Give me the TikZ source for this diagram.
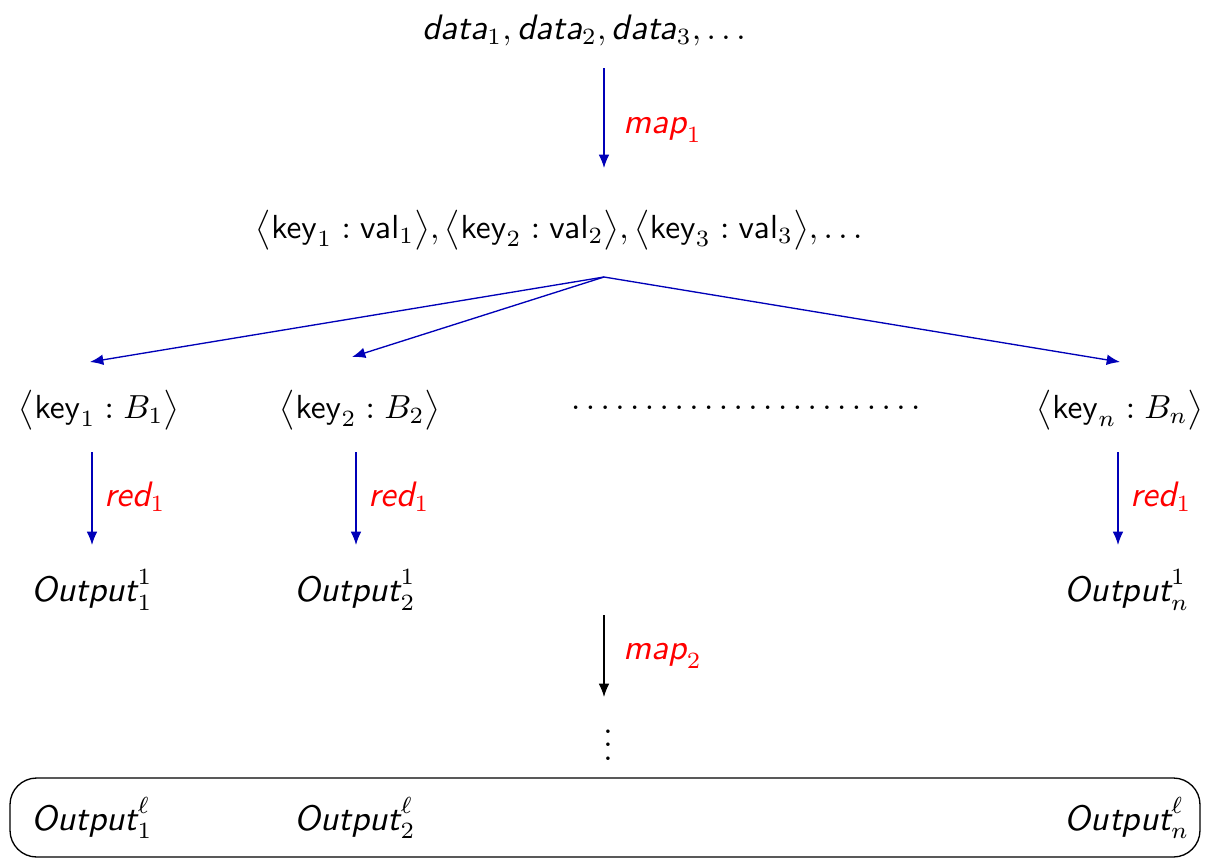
\documentclass[tikz,border=0pt]{standalone}
\usepackage{graphicx}
\usepackage{amsmath}
\usetikzlibrary{arrows.meta}
\definecolor{arrblue}{rgb}{0,0,0.72}
\newcommand{\sfit}[1]{\text{\scalebox{1.06}{\sffamily\itshape #1}}}
\begin{document}
\begin{tikzpicture}[x=0.3pt,y=-0.3pt,
  txt/.style={inner sep=0pt, anchor=center},
  arr/.style={draw=arrblue, line width=0.4pt, -{Latex[length=4pt,width=3.2pt]}},
  blk/.style={draw=black, line width=0.4pt, -{Latex[length=4pt,width=3.2pt]}},
  lab/.style={text=red, anchor=west, inner sep=0pt}]
\useasboundingbox (0,0) rectangle (1207,859);
% nodes
\node[txt] (top) at (584,30) {$\sfit{data}_1, \sfit{data}_2, \sfit{data}_3, \ldots$};
\node[txt] (kv) at (559,230) {$\big\langle \mathsf{key}_1 : \mathsf{val}_1\big\rangle, \big\langle \mathsf{key}_2 : \mathsf{val}_2\big\rangle, \big\langle \mathsf{key}_3 : \mathsf{val}_3\big\rangle, \ldots$};
\node[txt] (k1) at (99,410) {$\big\langle \mathsf{key}_1 : B_1\big\rangle$};
\node[txt] (k2) at (360,410) {$\big\langle \mathsf{key}_2 : B_2\big\rangle$};
\node[txt] (kd) at (746,408) {$\ldots\ldots\ldots\ldots\ldots\ldots\ldots\ldots$};
\node[txt] (kn) at (1120,410) {$\big\langle \mathsf{key}_n : B_n\big\rangle$};
\node[txt] (o1) at (92,590) {$\sfit{Output}^1_1$};
\node[txt] (o2) at (355,590) {$\sfit{Output}^1_2$};
\node[txt] (on) at (1127,590) {$\sfit{Output}^1_n$};
\node[txt] (vd) at (608,735) {$\vdots$};
\node[draw, rounded corners=8pt, line width=0.4pt, minimum width=357pt, minimum height=23.7pt, inner sep=0pt] (box) at (605,817.5) {};
\node[txt] (l1) at (92,818) {$\sfit{Output}^\ell_1$};
\node[txt] (l2) at (355,818) {$\sfit{Output}^\ell_2$};
\node[txt] (ln) at (1127,818) {$\sfit{Output}^\ell_n$};
% coordinates
\coordinate (m1s) at (604,68);
\coordinate (m1e) at (604,168);
\coordinate (br) at (604,277);
\coordinate (e1) at (90,362);
\coordinate (e2) at (352,357);
\coordinate (en) at (1120,362);
\coordinate (r1s) at (92,452);
\coordinate (r1e) at (92,545);
\coordinate (r2s) at (356,452);
\coordinate (r2e) at (356,545);
\coordinate (rns) at (1118,452);
\coordinate (rne) at (1118,545);
\coordinate (m2s) at (604,615);
\coordinate (m2e) at (604,697);
% connectors
\draw[arr] (m1s) -- (m1e) node[lab, pos=0.62, xshift=19*0.3pt] (lm1) {$\sfit{map}_1$};
\draw[arr] (br) -- (e1);
\draw[arr] (br) -- (e2);
\draw[arr] (br) -- (en);
\draw[arr] (r1s) -- (r1e) node[lab, pos=0.48, xshift=12*0.3pt] (lr1) {$\sfit{red}_1$};
\draw[arr] (r2s) -- (r2e) node[lab, pos=0.48, xshift=12*0.3pt] (lr2) {$\sfit{red}_1$};
\draw[arr] (rns) -- (rne) node[lab, pos=0.48, xshift=12*0.3pt] (lrn) {$\sfit{red}_1$};
\draw[blk] (m2s) -- (m2e) node[lab, pos=0.5, xshift=19*0.3pt] (lm2) {$\sfit{map}_2$};
\end{tikzpicture}
\end{document}
